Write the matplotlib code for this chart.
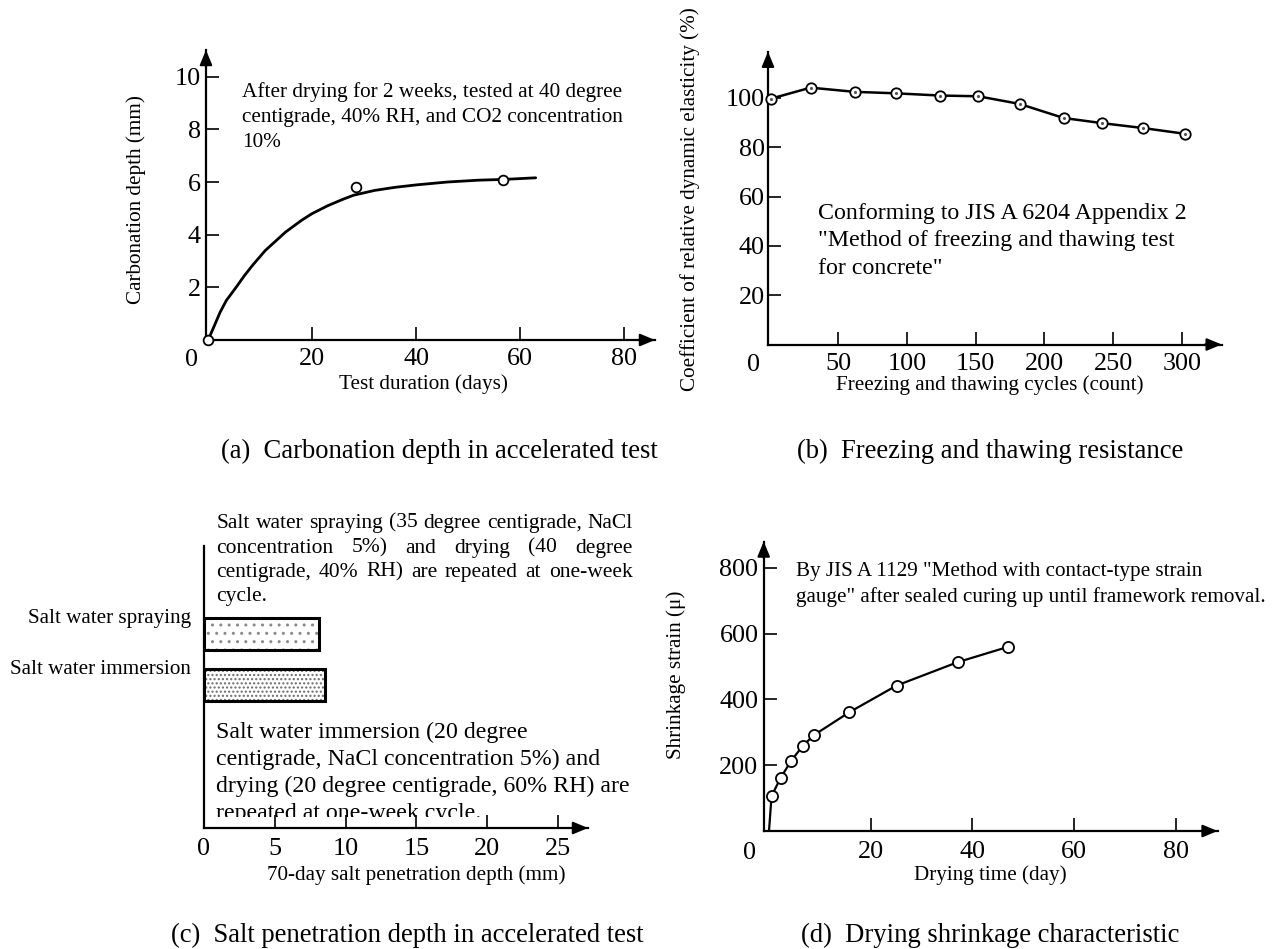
import matplotlib
matplotlib.use("Agg")
import matplotlib.pyplot as plt
from matplotlib.transforms import Bbox

plt.rcParams['font.family'] = ['Liberation Serif', 'DejaVu Serif']
plt.rcParams['hatch.linewidth'] = 1.0

# ---------------- data ----------------
carb_curve_days = [0, 1, 2.3, 3.5, 5.2, 7, 8.6, 11, 14.9, 18, 20, 23, 26, 28, 32, 36, 40, 46, 52, 57, 63]
carb_curve_depth = [0, 0.45, 1.05, 1.5, 1.95, 2.45, 2.85, 3.4, 4.1, 4.55, 4.8, 5.1, 5.35, 5.5, 5.68, 5.8, 5.89, 6.0, 6.07, 6.1, 6.16]
carb_meas_days = [0, 28.4, 56.7]
carb_meas_depth = [0, 5.82, 6.08]
carb_xticks = [20, 40, 60, 80]
carb_yticks = [2, 4, 6, 8, 10]

ft_cycles = [1, 30, 62, 92, 124, 152, 182, 214, 242, 272, 302]
ft_elasticity = [99.7, 104.2, 102.5, 101.9, 101.0, 100.7, 97.6, 91.9, 89.8, 87.8, 85.5]
ft_xticks = [50, 100, 150, 200, 250, 300]
ft_yticks = [20, 40, 60, 80, 100]

salt_methods = ['Salt water spraying', 'Salt water immersion']
salt_depth = [8.13, 8.56]
salt_xticks = [0, 5, 10, 15, 20, 25]

shrink_days = [0, 0.5, 2.3, 4.4, 6.6, 8.8, 15.8, 25.1, 37.1, 47.1]
shrink_strain = [0, 106, 162, 214, 258, 291, 361, 442, 513, 560]
shrink_xticks = [20, 40, 60, 80]
shrink_yticks = [200, 400, 600, 800]

# ---------------- layout helpers ----------------
W, H, DPI = 1281, 949, 100
fig = plt.figure(figsize=(W / DPI, H / DPI), dpi=DPI)
fig.patch.set_facecolor('white')

TICK_FS = 18.8
LABEL_FS = 15.2


def fx(x):
    return x / W


def fy(y):
    return 1 - y / H


def em(fs):
    return fs * DPI / 72.0


def put(x, y, s, fs, ha='left', **kw):
    """Place a single text line whose visual centre is at pixel y."""
    return fig.text(fx(x), fy(y + 0.3 * em(fs)), s, fontsize=fs, ha=ha,
                    va='baseline', **kw)


def make_axes(left, right, top, bottom, x0, kx, y0, ky, xpad, ypad):
    ax = fig.add_axes([left / W, 1 - bottom / H, (right - left) / W, (bottom - top) / H])
    ax.set_xlim((left - x0) / kx, (right - x0) / kx)
    ax.set_ylim((y0 - bottom) / ky, (y0 - top) / ky)
    for s in ('top', 'right'):
        ax.spines[s].set_visible(False)
    for s in ('left', 'bottom'):
        ax.spines[s].set_linewidth(1.6)
    ax.tick_params(direction='in', length=9.5, width=1.2, labelsize=TICK_FS)
    ax.tick_params(axis='x', pad=xpad)
    ax.tick_params(axis='y', pad=ypad)
    ax.patch.set_alpha(0)
    return ax


STYLE = '-|>,head_length=0.6,head_width=0.25'


def arrow_x(ax):
    ax.annotate('', xy=(1, 0), xycoords='axes fraction', xytext=(-12, 0),
                textcoords='offset points', annotation_clip=False,
                arrowprops=dict(arrowstyle=STYLE, mutation_scale=15, color='k',
                                lw=1.5, shrinkA=0, shrinkB=0))


def arrow_y(ax):
    ax.annotate('', xy=(0, 1), xycoords='axes fraction', xytext=(0, -12),
                textcoords='offset points', annotation_clip=False,
                arrowprops=dict(arrowstyle=STYLE, mutation_scale=15, color='k',
                                lw=1.5, shrinkA=0, shrinkB=0))


def xlabel(ax, s, x, y, fs=LABEL_FS):
    ax.set_xlabel(s, fontsize=fs)
    ax.xaxis.label.set_va('baseline')
    ax.xaxis.label.set_ha('center')
    ax.xaxis.set_label_coords(fx(x), fy(y + 0.3 * em(fs)), transform=fig.transFigure)


def ylabel(ax, s, x, y, fs=LABEL_FS):
    ax.set_ylabel(s, fontsize=fs)
    ax.yaxis.label.set_va('baseline')
    ax.yaxis.label.set_ha('center')
    ax.yaxis.label.set_rotation_mode('anchor')
    ax.yaxis.set_label_coords(fx(x + 0.3 * em(fs)), fy(y), transform=fig.transFigure)


def origin_zero(x, y):
    put(x, y + 0.04 * em(TICK_FS), '0', TICK_FS, ha='center')


def justified(lines, x0, x1, ys, fs):
    r = fig.canvas.get_renderer()
    for i, (line, y) in enumerate(zip(lines, ys)):
        words = line.split()
        if i == len(lines) - 1 or len(words) == 1:
            put(x0, y, line, fs)
            continue
        ts = [put(x0, y, w, fs) for w in words]
        widths = [t.get_window_extent(r).width for t in ts]
        gap = (x1 - x0 - sum(widths)) / (len(words) - 1)
        x = x0
        for t, w in zip(ts, widths):
            t.set_x(fx(x))
            x += w + gap


MK = dict(marker='o', mfc='white', mec='k', mew=1.3, linestyle='none')

# ---------------- (a) carbonation ----------------
axa = make_axes(206, 655, 50, 340, 208.1, 5.2, 340, 26.33, xpad=5.8, ypad=3.8)
axa.plot(carb_curve_days, carb_curve_depth, color='k', lw=2.0, solid_capstyle='round')
axa.plot(carb_meas_days, carb_meas_depth, ms=7, clip_on=False, zorder=5, **MK)
axa.set_xticks(carb_xticks, [str(v) for v in carb_xticks])
axa.set_yticks(carb_yticks, [str(v) for v in carb_yticks])
arrow_x(axa)
arrow_y(axa)
origin_zero(191.7, 356.7)
xlabel(axa, 'Test duration (days)', 423.5, 383)
ylabel(axa, 'Carbonation depth (mm)', 134.7, 199.5)
for s, y in zip(['After drying for 2 weeks, tested at 40 degree',
                 'centigrade, 40% RH, and CO2 concentration',
                 '10%'], [91, 115.5, 140.5]):
    put(242, y, s, 15.3)

# ---------------- (b) freezing and thawing ----------------
axb = make_axes(768, 1221.7, 51.7, 344.5, 769.3, 1.375, 344.5, 2.465, xpad=6.1, ypad=2.5)
axb.plot(ft_cycles, ft_elasticity, color='k', lw=1.8)
axb.plot(ft_cycles, ft_elasticity, ms=7.5, clip_on=False, zorder=5, **MK)
axb.plot(ft_cycles, ft_elasticity, marker='.', ms=2.5, color='#555555',
         linestyle='none', clip_on=False, zorder=6)
axb.set_xticks(ft_xticks, [str(v) for v in ft_xticks])
axb.set_yticks(ft_yticks, [str(v) for v in ft_yticks])
arrow_x(axb)
arrow_y(axb)
origin_zero(754, 362)
xlabel(axb, 'Freezing and thawing cycles (count)', 989.6, 384)
ylabel(axb, 'Coefficient of relative dynamic elasticity (%)', 689, 199)
for s, y in zip(['Conforming to JIS A 6204 Appendix 2',
                 '"Method of freezing and thawing test',
                 'for concrete"'], [211.7, 239.3, 266.7]):
    put(817.6, y, s, 17.2)

# ---------------- (c) salt penetration ----------------
axc = make_axes(204, 588, 546, 828, 203.5, 14.18, 828, 51.0, xpad=7.0, ypad=9.4)
bar_pos = [3.81, 2.81]
bar_h = 0.62
for p, v, hatch, hc in zip(bar_pos, salt_depth, ['..', '....'], ['#8a8a8a', '#6a6a6a']):
    axc.barh(p, v, height=bar_h, color='white', edgecolor=hc, hatch=hatch, linewidth=0)
axc.barh(bar_pos, salt_depth, height=bar_h, fill=False, edgecolor='k', linewidth=2.2)
axc.set_xticks(salt_xticks, [str(v) for v in salt_xticks])
axc.set_yticks([p + 0.355 for p in bar_pos], salt_methods, fontsize=LABEL_FS)
axc.tick_params(axis='y', length=0)
arrow_x(axc)
xlabel(axc, '70-day salt penetration depth (mm)', 416, 873.8)
justified(['Salt water spraying (35 degree centigrade, NaCl',
           'concentration 5%) and drying (40 degree',
           'centigrade, 40% RH) are repeated at one-week',
           'cycle.'], 216.3, 632.7, [521.2, 546.5, 570.1, 594.4], 15.5)
clip = Bbox([[0, H - 816.7], [W, H]])
for s, y in zip(['Salt water immersion (20 degree',
                 'centigrade, NaCl concentration 5%) and',
                 'drying (20 degree centigrade, 60% RH) are',
                 'repeated at one-week cycle.'], [730.4, 757.4, 784.4, 811.4]):
    t = put(216.3, y, s, 17.2)
    t.set_clip_box(clip)
    t.set_clip_on(True)

# ---------------- (d) drying shrinkage ----------------
axd = make_axes(763.7, 1217.6, 541.5, 831, 769, 5.082, 831, 0.329, xpad=7.2, ypad=3.8)
axd.plot(shrink_days, shrink_strain, color='k', lw=1.6)
axd.plot(shrink_days[1:], shrink_strain[1:], ms=8, clip_on=False, zorder=5, **MK)
axd.set_xticks(shrink_xticks, [str(v) for v in shrink_xticks])
axd.set_yticks(shrink_yticks, [str(v) for v in shrink_yticks])
arrow_x(axd)
arrow_y(axd)
origin_zero(750, 850)
xlabel(axd, 'Drying time (day)', 990, 873.8)
ylabel(axd, 'Shrinkage strain (\u03bc)', 674.7, 674.7)
for s, y in zip(['By JIS A 1129 "Method with contact-type strain',
                 'gauge" after sealed curing up until framework removal.'],
                [570.1, 595.4]):
    put(796.3, y, s, 15.2)

# ---------------- captions ----------------
CAP_FS = 19.2
put(439, 450.4, '(a)  Carbonation depth in accelerated test', CAP_FS, ha='center')
put(990, 450.4, '(b)  Freezing and thawing resistance', CAP_FS, ha='center')
put(407, 934.5, '(c)  Salt penetration depth in accelerated test', CAP_FS, ha='center')
put(990, 934.5, '(d)  Drying shrinkage characteristic', CAP_FS, ha='center')

fig.savefig('out.png', dpi=DPI, facecolor='white')
